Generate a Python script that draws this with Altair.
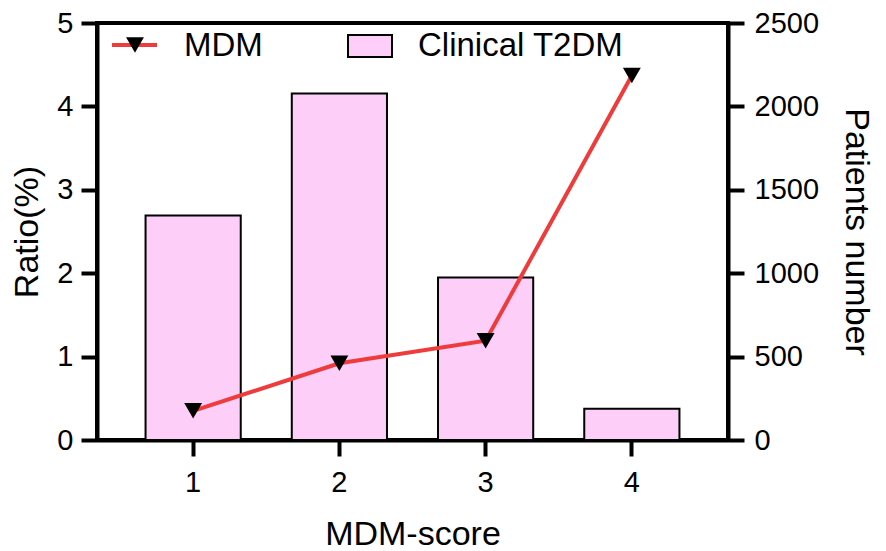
import altair as alt
import pandas as pd

# ---- data ----
scores = ["1", "2", "3", "4"]
patients = [1346, 2078, 974, 188]          # bars, right axis
ratio = [0.35, 0.92, 1.19, 4.37]           # line, left axis
series_names = ["MDM", "Clinical T2DM"]
ratio_ticks = [0, 1, 2, 3, 4, 5]
patient_ticks = [0, 500, 1000, 1500, 2000, 2500]

df = pd.DataFrame({"score": scores, "patients": patients, "ratio": ratio})

FONT = "Liberation Sans"
RED = "#EE3B3B"
PINK = "#FDCEF7"

x_enc = alt.X(
    "score:O", sort=scores, title="MDM-score",
    scale=alt.Scale(paddingInner=0.349, paddingOuter=0.332),
    axis=alt.Axis(labelAngle=0, labelPadding=12, titlePadding=20),
)

bars = alt.Chart(df).mark_bar(fill=PINK, stroke="black", strokeWidth=2).encode(
    x=x_enc,
    y=alt.Y("patients:Q", title="Patients number",
            scale=alt.Scale(domain=[0, 2500], nice=False),
            axis=alt.Axis(orient="right", values=patient_ticks, format="d",
                          labelPadding=10, titlePadding=20)),
)

line = alt.Chart(df).mark_line(
    color=RED, strokeWidth=4,
    point=alt.OverlayMarkDef(shape="triangle-down", filled=True, fill="black",
                             color="black", size=320, opacity=1),
).encode(
    x=x_enc,
    y=alt.Y("ratio:Q", title="Ratio(%)",
            scale=alt.Scale(domain=[0, 5], nice=False),
            axis=alt.Axis(orient="left", values=ratio_ticks,
                          labelPadding=8, titlePadding=12)),
)

# ---- hand-built legend (decoration) ----
leg1 = pd.DataFrame({"name": [series_names[0]]})
leg2 = pd.DataFrame({"name": [series_names[1]]})

leg_rule = alt.Chart(leg1).mark_rule(color=RED, strokeWidth=4).encode(
    x=alt.value(15), x2=alt.value(60), y=alt.value(22))
leg_tri = alt.Chart(leg1).mark_point(shape="triangle-down", filled=True,
                                     color="black", size=320, opacity=1).encode(
    x=alt.value(38), y=alt.value(22))
leg_txt1 = alt.Chart(leg1).mark_text(font=FONT, fontSize=33, align="left",
                                     baseline="alphabetic", color="black").encode(
    x=alt.value(87), y=alt.value(32.5), text="name:N")
leg_rect = alt.Chart(leg2).mark_rect(fill=PINK, stroke="black", strokeWidth=2).encode(
    x=alt.value(251), x2=alt.value(295), y=alt.value(12), y2=alt.value(34))
leg_txt2 = alt.Chart(leg2).mark_text(font=FONT, fontSize=33, align="left",
                                     baseline="alphabetic", color="black").encode(
    x=alt.value(321), y=alt.value(32.5), text="name:N")

chart = alt.layer(
    bars, line, leg_rule, leg_tri, leg_txt1, leg_rect, leg_txt2
).resolve_scale(y="independent").properties(
    width=631, height=417,
    autosize=alt.AutoSizeParams(type="none"),
    padding={"left": 89, "top": 15, "right": 150, "bottom": 111},
).configure_axis(
    domainColor="black", domainWidth=4, tickColor="black", tickWidth=4,
    tickSize=16, labelFont=FONT, labelFontSize=29, labelColor="black",
    titleFont=FONT, titleFontSize=34, titleFontWeight="normal",
    titleColor="black", grid=False,
).configure_view(stroke="black", strokeWidth=4)

chart.save("out.html", embed_options={"renderer": "svg", "actions": False})
